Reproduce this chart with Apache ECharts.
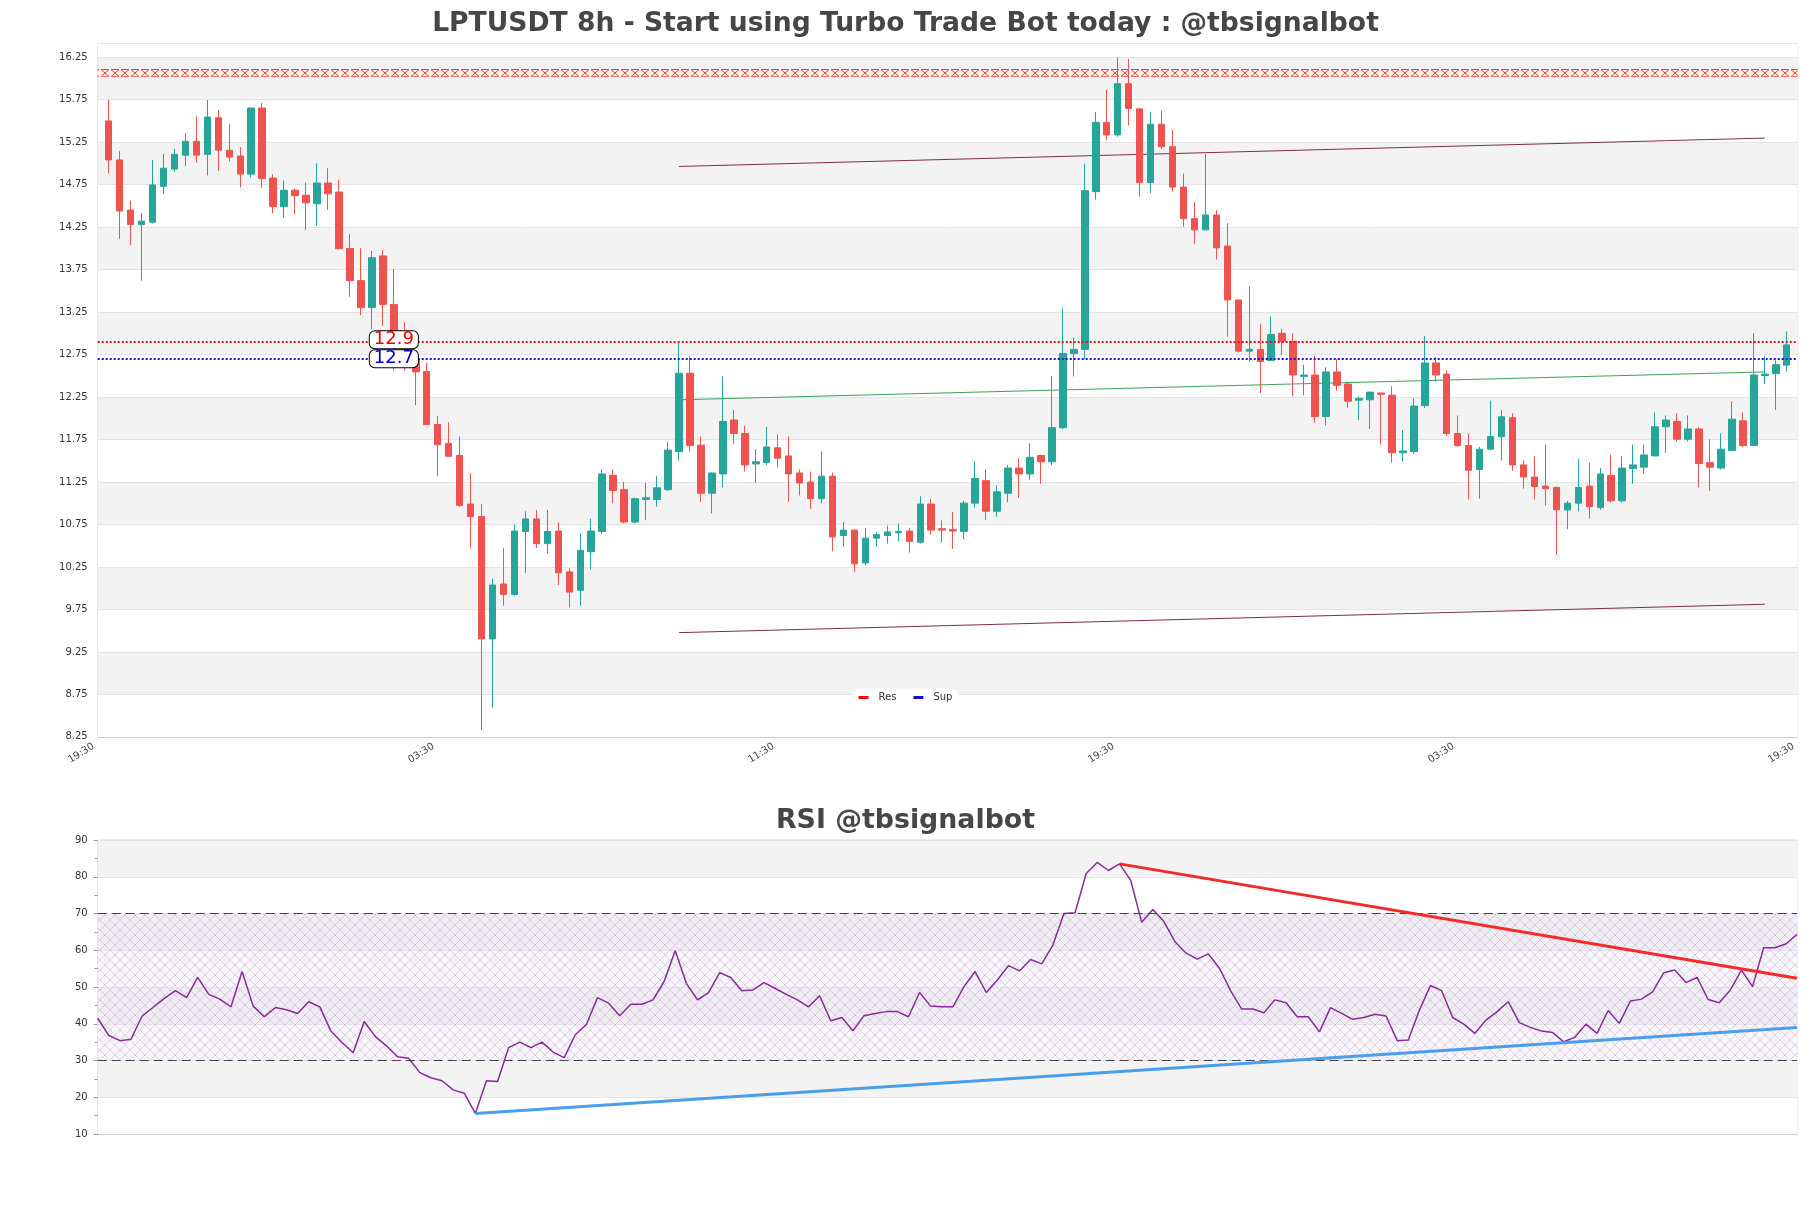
<!DOCTYPE html>
<html><head><meta charset="utf-8">
<script src="https://cdn.jsdelivr.net/npm/echarts/dist/echarts.min.js"></script>
<style>html,body{margin:0;padding:0;background:#fff}#chart{width:1811px;height:1208px}</style>
</head><body><div id="chart"></div>
<script>
// ---------------- DATA ----------------
const slotCount = 156;                       // category slots on the price axis (first/last are empty)
const xTickSlots = [0, 31, 62, 93, 124, 155];
const xTickLabels = ['19:30', '03:30', '11:30', '19:30', '03:30', '19:30'];

// [open, close, low, high] for candles at slots 1..154
const candles = [
[15.50,15.04,14.885,15.747],[15.04,14.44,14.112,15.144],[14.451,14.282,14.038,14.562],[14.28,14.32,13.62,14.414],
[14.308,14.747,14.292,15.04],[14.731,14.943,14.636,15.112],[14.933,15.107,14.90,15.17],[15.097,15.26,14.97,15.356],
[15.26,15.097,15.007,15.55],[15.107,15.546,14.858,15.747],[15.536,15.155,14.911,15.626],[15.155,15.075,15.023,15.462],
[15.086,14.874,14.721,15.192],[14.874,15.652,14.837,15.652],[15.652,14.821,14.716,15.71],[14.827,14.493,14.414,14.874],
[14.493,14.684,14.361,14.80],[14.684,14.62,14.398,14.705],[14.626,14.536,14.218,14.774],[14.525,14.769,14.266,15.001],
[14.769,14.642,14.456,14.943],[14.663,13.996,13.99,14.806],[13.999,13.62,13.43,14.17],[13.62,13.303,13.213,14.001],
[13.303,13.89,13.05,13.97],[13.911,13.34,13.09,13.98],[13.34,12.98,12.56,13.758],[12.98,12.72,12.56,13.13],
[12.70,12.546,12.155,12.75],[12.55,11.927,11.92,12.652],[11.927,11.689,11.319,12.028],[11.705,11.552,11.55,11.954],
[11.562,10.975,10.96,11.784],[10.991,10.843,10.472,11.356],[10.843,9.403,8.329,10.991],[9.403,10.038,8.594,10.112],
[10.049,9.927,9.795,10.472],[9.927,10.673,9.911,10.753],[10.668,10.816,10.181,10.906],[10.816,10.525,10.472,10.922],
[10.525,10.668,10.409,10.922],[10.673,10.181,10.038,10.774],[10.192,9.954,9.774,10.234],[9.975,10.446,9.795,10.647],
[10.43,10.673,10.218,10.816],[10.668,11.345,10.642,11.398],[11.329,11.149,11.001,11.398],[11.16,10.779,10.763,11.25],
[10.779,11.054,10.763,11.065],[11.044,11.065,10.80,11.239],[11.044,11.181,10.96,11.319],[11.16,11.626,11.144,11.726],
[11.61,12.53,11.504,12.895],[12.53,11.679,11.61,12.731],[11.684,11.118,11.017,11.784],[11.118,11.356,10.88,11.36],
[11.345,11.964,11.186,12.499],[11.98,11.821,11.70,12.097],[11.821,11.451,11.372,11.911],[11.462,11.488,11.239,11.636],
[11.478,11.663,11.45,11.90],[11.652,11.53,11.425,11.81],[11.557,11.345,11.017,11.784],[11.356,11.239,11.091,11.398],
[11.25,11.054,10.933,11.372],[11.054,11.319,11.001,11.61],[11.319,10.604,10.435,11.361],[10.62,10.684,10.488,10.779],
[10.684,10.287,10.192,10.694],[10.297,10.589,10.271,10.71],[10.589,10.63,10.488,10.657],[10.62,10.663,10.525,10.737],
[10.652,10.668,10.552,10.763],[10.673,10.552,10.42,10.71],[10.541,10.991,10.525,11.081],[10.991,10.684,10.63,11.054],
[10.70,10.684,10.536,10.80],[10.689,10.673,10.462,10.896],[10.668,11.001,10.578,11.028],[11.001,11.292,10.949,11.493],
[11.266,10.906,10.80,11.398],[10.906,11.134,10.843,11.213],[11.118,11.414,11.012,11.451],[11.414,11.345,11.065,11.53],
[11.345,11.541,11.276,11.705],[11.562,11.488,11.229,11.573],[11.488,11.89,11.45,12.499],[11.89,12.763,11.874,13.292],
[12.763,12.811,12.493,12.948],[12.811,14.679,12.694,14.996],[14.668,15.483,14.573,15.605],[15.483,15.335,15.276,15.869],
[15.335,15.938,15.314,16.25],[15.938,15.647,15.446,16.229],[15.642,14.774,14.61,15.642],[14.774,15.462,14.652,15.605],
[15.462,15.197,15.17,15.62],[15.197,14.721,14.668,15.393],[14.721,14.35,14.255,14.88],[14.35,14.218,14.054,14.546],
[14.218,14.393,14.218,15.112],[14.393,14.007,13.869,14.451],[14.028,13.393,12.959,14.297],[13.393,12.79,12.774,13.393],
[12.79,12.811,12.668,13.552],[12.811,12.668,12.298,13.107],[12.679,12.985,12.679,13.197],[13.001,12.906,12.747,13.054],
[12.906,12.509,12.261,13.001],[12.493,12.509,12.271,12.631],[12.509,12.022,11.943,12.737],[12.022,12.546,11.917,12.599],
[12.546,12.388,12.324,12.694],[12.403,12.202,12.123,12.43],[12.213,12.234,11.98,12.255],[12.218,12.308,11.874,12.313],
[12.298,12.282,11.689,12.298],[12.271,11.594,11.478,12.377],[11.594,11.615,11.493,11.864],[11.61,12.144,11.583,12.234],
[12.149,12.652,12.123,12.969],[12.652,12.509,12.43,12.721],[12.52,11.821,11.795,12.562],[11.821,11.679,11.663,12.033],
[11.679,11.388,11.044,11.821],[11.398,11.636,11.054,11.663],[11.636,11.784,11.626,12.207],[11.784,12.017,11.504,12.097],
[12.007,11.451,11.382,12.06],[11.451,11.308,11.171,11.504],[11.308,11.197,11.044,11.557],[11.202,11.171,10.975,11.689],
[11.186,10.922,10.393,11.197],[10.922,11.001,10.694,11.028],[11.001,11.186,10.906,11.52],[11.202,10.96,10.816,11.478],
[10.949,11.345,10.922,11.414],[11.329,11.028,11.012,11.573],[11.028,11.414,11.012,11.557],[11.409,11.451,11.229,11.689],
[11.425,11.568,11.345,11.689],[11.557,11.90,11.557,12.07],[11.90,11.98,11.594,12.033],[11.964,11.753,11.726,12.06],
[11.753,11.874,11.726,12.033],[11.874,11.467,11.186,11.90],[11.478,11.425,11.144,11.753],[11.414,11.636,11.398,11.821],
[11.62,11.99,11.62,12.202],[11.97,11.679,11.663,12.07],[11.679,12.509,11.679,13.001],[12.504,12.52,12.403,12.731],
[12.525,12.631,12.097,12.684],[12.626,12.864,12.552,13.022]
];

const rsiValues = [
41.5,36.8,35.4,35.8,42.1,44.5,46.9,49.0,47.1,52.6,48.0,46.7,44.6,54.2,44.8,41.9,44.4,43.8,42.8,46.0,
44.6,38.0,34.9,32.1,40.6,36.5,34.0,31.0,30.6,26.7,25.3,24.5,22.0,21.1,15.6,24.5,24.3,33.5,35.0,33.5,
35.0,32.3,30.8,37.0,39.8,47.1,45.6,42.2,45.3,45.3,46.5,51.5,59.9,51.0,46.5,48.5,53.9,52.6,49.0,49.2,
51.2,49.6,48.0,46.5,44.6,47.6,40.8,41.7,38.1,42.2,42.8,43.3,43.3,41.9,48.5,44.8,44.6,44.6,50.1,54.2,
48.5,51.9,55.8,54.4,57.5,56.3,61.4,70.0,70.2,80.9,83.9,81.7,83.5,79.1,67.6,71.1,67.8,62.3,59.2,57.6,
59.0,55.1,49.0,44.0,44.0,43.0,46.5,45.7,41.9,41.9,37.8,44.4,42.8,41.2,41.7,42.6,42.1,35.4,35.6,43.7,
50.4,49.0,41.7,39.9,37.4,41.0,43.3,46.0,40.3,39.0,38.0,37.6,35.1,36.3,39.9,37.4,43.6,40.1,46.2,46.7,
48.7,53.9,54.6,51.2,52.6,46.6,45.7,49.2,54.6,50.1,60.7,60.7,61.7,64.3
];

const resLevel = 12.9;
const supLevel = 12.7;
const levelLabelSlot = 27;
const topZone = [16.02, 16.11];
const channelUpper = [[53, 14.964], [152, 15.298]];
const channelLower = [[53, 9.477], [152, 9.811]];
const midLine = [[53, 12.218], [152, 12.546]];
const rsiResTrend = [[92, 83.5], [153, 52.4]];
const rsiSupTrend = [[34, 15.6], [153, 39.0]];
const rsiBand = [30, 70];

// ---------------- BUILD ----------------
const categories = Array.from({length: slotCount}, (_, i) => {
  const t = xTickSlots.indexOf(i);
  return t >= 0 ? xTickLabels[t] : 's' + i;
});
const candleData = candles.map((c, i) => [i + 1, c[0], c[1], c[2], c[3]]);
const rsiCats = rsiValues.map((_, i) => 'r' + i);

function hatchPattern() {
  const c = document.createElement('canvas'); c.width = 10; c.height = 10;
  const g = c.getContext('2d');
  g.fillStyle = 'rgba(236,226,244,0.35)'; g.fillRect(0, 0, 10, 10);
  g.strokeStyle = 'rgba(160,125,190,0.38)'; g.lineWidth = 0.8;
  g.beginPath(); g.moveTo(0, 0); g.lineTo(10, 10); g.moveTo(10, 0); g.lineTo(0, 10); g.stroke();
  return {image: c, repeat: 'repeat'};
}
function zonePattern() {
  const c = document.createElement('canvas'); c.width = 10; c.height = 8;
  const g = c.getContext('2d');
  g.fillStyle = 'rgba(255,240,228,0.9)'; g.fillRect(0, 0, 10, 8);
  g.strokeStyle = 'rgba(225,40,40,0.85)'; g.lineWidth = 1;
  g.beginPath(); g.moveTo(1, 0.5); g.lineTo(9, 0.5); g.moveTo(1, 7.5); g.lineTo(9, 7.5);
  g.moveTo(1, 0.5); g.lineTo(9, 7.5); g.moveTo(9, 0.5); g.lineTo(1, 7.5); g.stroke();
  return {image: c, repeat: 'repeat', y: 69};
}

const chart = echarts.init(document.getElementById('chart'), null, {renderer: 'canvas'});
const axisLabelStyle = {color: '#333', fontSize: 10, fontFamily: 'DejaVu Sans'};
const splitAreaColors = ['#ffffff', '#f3f3f3'];
const levelLabel = {show: true, position: 'inside', fontSize: 18, lineHeight: 15,
  backgroundColor: '#fff', borderColor: '#000', borderWidth: 1, borderRadius: 5, padding: [1, 4]};

chart.setOption({
  animation: false,
  backgroundColor: '#fff',
  textStyle: {fontFamily: 'DejaVu Sans'},
  title: [
    {text: 'LPTUSDT 8h - Start using Turbo Trade Bot today : @tbsignalbot', left: 'center', top: 6,
     textStyle: {fontSize: 26.6, fontWeight: 'bold', color: '#464646'}},
    {text: 'RSI @tbsignalbot', left: 'center', top: 803,
     textStyle: {fontSize: 26.8, fontWeight: 'bold', color: '#464646'}}
  ],
  legend: {
    data: ['Res', 'Sup'], left: 'center', top: 688.5, backgroundColor: '#fff', borderRadius: 9,
    padding: [4, 7], itemWidth: 10, itemHeight: 3, itemGap: 17, icon: 'rect',
    textStyle: {fontSize: 10, color: '#333', padding: [0, 0, 0, 5]}
  },
  grid: [
    {left: 97.7, right: 13.3, top: 43.6, height: 693.3, show: true, borderColor: '#ddd', borderWidth: 1},
    {left: 97.7, right: 14, top: 840, height: 294, show: true, borderColor: '#ddd', borderWidth: 1}
  ],
  xAxis: [
    {type: 'category', gridIndex: 0, data: categories, boundaryGap: false,
     axisLine: {lineStyle: {color: '#ccc'}}, axisTick: {show: false},
     axisLabel: {color: '#444', fontSize: 10, rotate: 32, margin: 6, padding: [0, 5, 0, 0],
                 interval: (i) => xTickSlots.indexOf(i) >= 0},
     splitLine: {show: false}},
    {type: 'category', gridIndex: 1, data: rsiCats, boundaryGap: false,
     axisLine: {lineStyle: {color: '#ccc'}}, axisTick: {show: false}, axisLabel: {show: false},
     splitLine: {show: false}}
  ],
  yAxis: [
    {type: 'value', gridIndex: 0, min: 8.25, max: 16.41, interval: 0.5, scale: true,
     axisLine: {show: false}, axisTick: {show: false},
     axisLabel: Object.assign({margin: 10, showMaxLabel: false,
       formatter: (v) => (Math.abs((v - 8.25) / 0.5 - Math.round((v - 8.25) / 0.5)) < 1e-6 ? v.toFixed(2) : '')}, axisLabelStyle),
     splitLine: {lineStyle: {color: '#e4e4e4'}},
     splitArea: {show: true, areaStyle: {color: splitAreaColors}}},
    {type: 'value', gridIndex: 1, min: 10, max: 90, interval: 10,
     axisLine: {show: false},
     axisTick: {show: true, length: 4, lineStyle: {color: '#999'}},
     minorTick: {show: true, splitNumber: 2, length: 3, lineStyle: {color: '#999'}},
     axisLabel: Object.assign({margin: 10}, axisLabelStyle),
     splitLine: {lineStyle: {color: '#e4e4e4'}},
     splitArea: {show: true, areaStyle: {color: splitAreaColors}}}
  ],
  series: [
    {name: 'Zone', type: 'line', xAxisIndex: 0, yAxisIndex: 0, data: [], silent: true,
     markArea: {silent: true, itemStyle: {color: zonePattern()},
       data: [[{yAxis: topZone[0]}, {yAxis: topZone[1]}]]}},
    {name: 'UpperChannel', type: 'line', xAxisIndex: 0, yAxisIndex: 0, data: channelUpper,
     symbol: 'none', lineStyle: {color: '#7e2f3c', width: 1}, z: 3},
    {name: 'LowerChannel', type: 'line', xAxisIndex: 0, yAxisIndex: 0, data: channelLower,
     symbol: 'none', lineStyle: {color: '#7e2f3c', width: 1}, z: 3},
    {name: 'MidLine', type: 'line', xAxisIndex: 0, yAxisIndex: 0, data: midLine,
     symbol: 'none', lineStyle: {color: '#3aa35a', width: 1}, z: 3},
    {name: 'Price', type: 'candlestick', xAxisIndex: 0, yAxisIndex: 0, data: candleData,
     encode: {x: 0, y: [1, 2, 3, 4]}, barWidth: 7, z: 4,
     itemStyle: {color: '#26a69a', color0: '#ef5350', borderColor: '#26a69a', borderColor0: '#ef5350', borderWidth: 1},
     markPoint: {symbol: 'rect', symbolSize: 1, itemStyle: {color: 'rgba(0,0,0,0)'}, z: 10,
       data: [
         {coord: [levelLabelSlot, resLevel], value: resLevel,
          label: Object.assign({offset: [0, -2], formatter: String(resLevel), color: '#e00'}, levelLabel)},
         {coord: [levelLabelSlot, supLevel], value: supLevel,
          label: Object.assign({offset: [0, 0], formatter: String(supLevel), color: '#00c'}, levelLabel)}
       ]}},
    {name: 'Res', type: 'line', xAxisIndex: 0, yAxisIndex: 0, data: [], color: '#e01010', z: 6,
     markLine: {silent: true, symbol: ['none', 'none'], label: {show: false},
       lineStyle: {color: '#ee1111', type: 'dotted', width: 2}, data: [{yAxis: resLevel}]}},
    {name: 'Sup', type: 'line', xAxisIndex: 0, yAxisIndex: 0, data: [], color: '#1010c0', z: 6,
     markLine: {silent: true, symbol: ['none', 'none'], label: {show: false},
       lineStyle: {color: '#1111cc', type: 'dotted', width: 2}, data: [{yAxis: supLevel}]}},

    {name: 'RSIBand', type: 'line', xAxisIndex: 1, yAxisIndex: 1, data: [], silent: true,
     markArea: {silent: true, itemStyle: {color: hatchPattern()},
       data: [[{yAxis: rsiBand[0]}, {yAxis: rsiBand[1]}]]},
     markLine: {silent: true, symbol: ['none', 'none'], label: {show: false},
       lineStyle: {color: '#444', type: [9, 5], width: 1}, data: [{yAxis: rsiBand[0]}, {yAxis: rsiBand[1]}]}},
    {name: 'RSI', type: 'line', xAxisIndex: 1, yAxisIndex: 1, data: rsiValues, symbol: 'none',
     lineStyle: {color: '#8b2b9b', width: 1.5}, z: 4},
    {name: 'RSIRes', type: 'line', xAxisIndex: 1, yAxisIndex: 1, data: rsiResTrend, symbol: 'none',
     lineStyle: {color: '#f42a2a', width: 3}, z: 5},
    {name: 'RSISup', type: 'line', xAxisIndex: 1, yAxisIndex: 1, data: rsiSupTrend, symbol: 'none',
     lineStyle: {color: '#4a9eea', width: 3}, z: 5}
  ]
});
</script>
</body></html>
